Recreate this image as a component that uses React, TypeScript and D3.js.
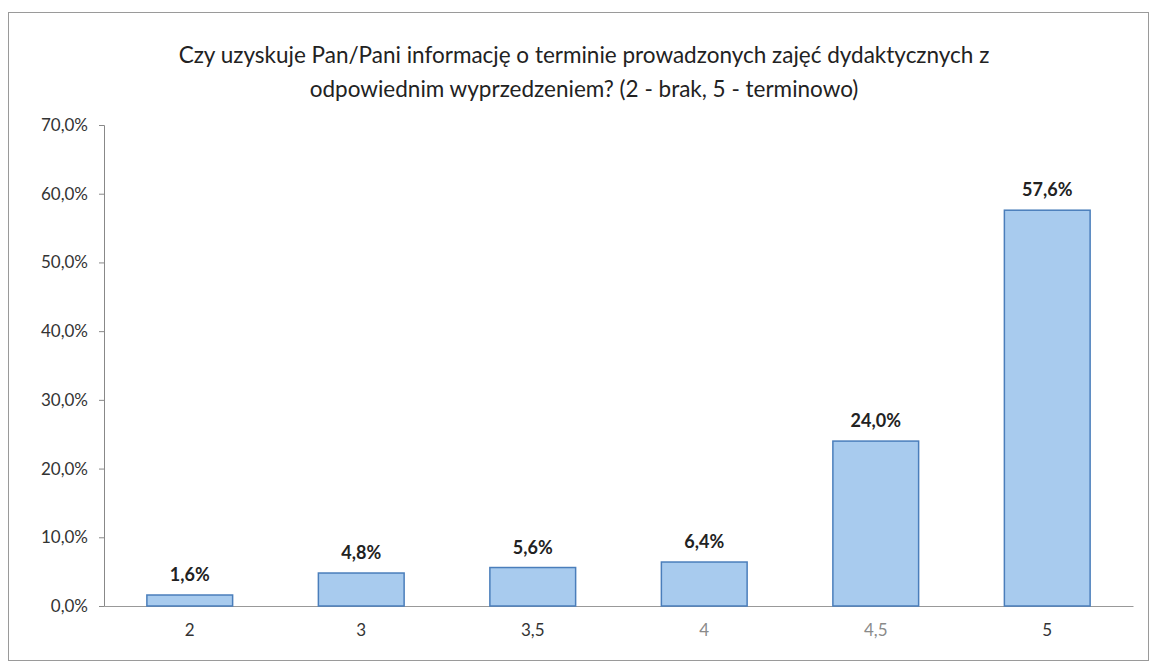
import React, { useEffect, useRef } from 'react';
import * as d3 from 'd3';

// Survey answers and their share of responses
const categories = ['2', '3', '3,5', '4', '4,5', '5'];
const shares = [1.6, 4.8, 5.6, 6.4, 24.0, 57.6];
const yTicks = [0, 10, 20, 30, 40, 50, 60, 70];
const titleLines = [
  'Czy uzyskuje Pan/Pani informację o terminie prowadzonych zajęć dydaktycznych z',
  'odpowiednim wyprzedzeniem? (2 - brak, 5 - terminowo)',
];

const WIDTH = 1152;
const HEIGHT = 668;
const PLOT_LEFT = 104;
const PLOT_RIGHT = 1133;
const PLOT_TOP = 125;
const PLOT_BOTTOM = 606;
const FONT = 'Lato, "Open Sans", sans-serif';

const fmt = (v: number) => v.toFixed(1).replace('.', ',') + '%';

export default function App() {
  const ref = useRef<SVGSVGElement | null>(null);

  useEffect(() => {
    const svg = d3.select(ref.current);
    svg.selectAll('*').remove();

    const x = d3.scaleBand<string>()
      .domain(categories)
      .range([PLOT_LEFT, PLOT_RIGHT])
      .paddingInner(0.5)
      .paddingOuter(0.25);

    const y = d3.scaleLinear()
      .domain([0, 70])
      .range([PLOT_BOTTOM, PLOT_TOP]);

    // outer frame
    svg.append('rect')
      .attr('x', 8.5).attr('y', 12.5)
      .attr('width', 1140).attr('height', 648)
      .attr('fill', '#fff')
      .attr('stroke', '#9a9a9a');

    // title
    svg.append('g').selectAll('text')
      .data(titleLines)
      .enter()
      .append('text')
      .attr('x', 584)
      .attr('y', (_d, i) => 63 + i * 34)
      .attr('text-anchor', 'middle')
      .attr('font-family', FONT)
      .attr('font-size', 22.5)
      .attr('fill', '#222')
      .text(d => d);

    // y axis
    const yAxis = d3.axisLeft(y)
      .tickValues(yTicks)
      .tickSize(5)
      .tickFormat(d => fmt(d as number));
    const gy = svg.append('g')
      .attr('transform', `translate(${PLOT_LEFT},0)`)
      .call(yAxis);
    gy.select('.domain').attr('stroke', '#888');
    gy.selectAll('.tick line').attr('stroke', '#888');
    gy.selectAll('.tick text')
      .attr('font-family', FONT)
      .attr('font-size', 17)
      .attr('fill', '#333')
      .attr('x', -16);

    // x axis
    const xAxis = d3.axisBottom(x).tickSize(0).tickPadding(18);
    const gx = svg.append('g')
      .attr('transform', `translate(0,${PLOT_BOTTOM})`)
      .call(xAxis);
    gx.select('.domain').attr('stroke', '#999');
    gx.selectAll('.tick text')
      .attr('font-family', FONT)
      .attr('font-size', 17)
      .attr('fill', (_d, i) => (i === 3 || i === 4 ? '#8a8a8a' : '#333'));

    // bars
    svg.append('g').selectAll('rect')
      .data(shares)
      .enter()
      .append('rect')
      .attr('x', (_d, i) => x(categories[i])!)
      .attr('y', d => y(d))
      .attr('width', x.bandwidth())
      .attr('height', d => PLOT_BOTTOM - y(d))
      .attr('fill', '#a8cbee')
      .attr('stroke', '#4a7ebb')
      .attr('stroke-width', 1.5);

    // value labels
    svg.append('g').selectAll('text')
      .data(shares)
      .enter()
      .append('text')
      .attr('x', (_d, i) => x(categories[i])! + x.bandwidth() / 2)
      .attr('y', d => y(d) - 14)
      .attr('text-anchor', 'middle')
      .attr('font-family', FONT)
      .attr('font-size', 18)
      .attr('font-weight', 'bold')
      .attr('fill', '#222')
      .text(d => fmt(d));
  }, []);

  return (
    <svg
      ref={ref}
      width={WIDTH}
      height={HEIGHT}
      style={{ position: 'absolute', left: 0, top: 0, background: '#fff' }}
    />
  );
}
